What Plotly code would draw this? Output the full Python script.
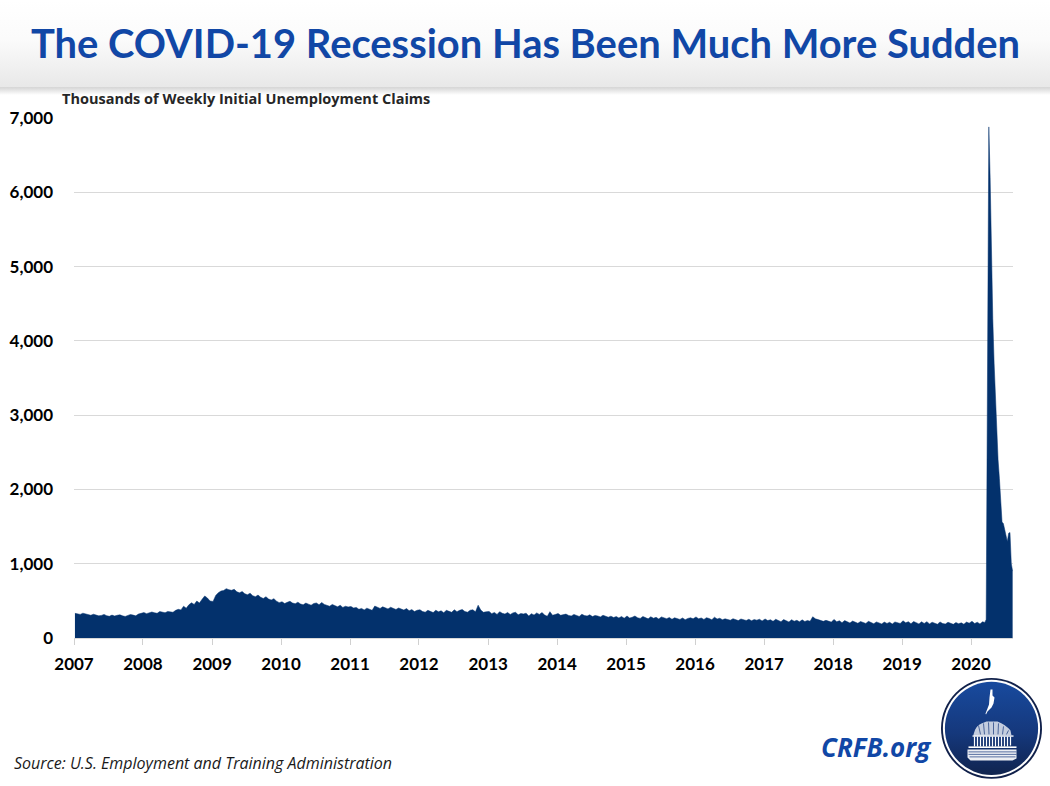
import base64
import pandas as pd
import plotly.graph_objects as go

TITLE = "The COVID-19 Recession Has Been Much More Sudden"
SUBTITLE = "Thousands of Weekly Initial Unemployment Claims"
SOURCE = "Source: U.S. Employment and Training Administration"
BRAND = "CRFB.org"

claims_2007 = [332,325,318,334,322,312,306,320,310,298,304,318,300,292,308,296,306,312,298,290,304,316,308,298,322,330]
claims_2008 = [342,328,336,350,340,332,356,346,340,358,352,346,372,386,378,428,402,446,474,452,498,470,522,566,538,498]
claims_2009 = [492,572,610,632,640,664,650,642,655,622,608,626,596,582,604,570,556,578,548,532,556,524,512,530,496,476]
claims_2010 = [488,464,480,494,470,462,482,458,446,470,456,442,464,472,448,478,452,436,428,452,434,420,440,412,428,418]
claims_2011 = [424,404,412,386,398,378,402,388,372,430,414,398,420,408,392,414,400,384,404,390,376,396,368,382,356,374]
claims_2012 = [380,356,348,372,360,342,374,352,366,340,372,358,346,380,354,372,384,356,348,374,380,352,442,376,346,352]
claims_2013 = [358,328,344,318,354,332,322,344,316,338,346,312,330,324,334,296,328,308,338,318,342,310,292,354,306,316]
claims_2014 = [330,306,316,322,304,296,318,308,290,320,302,296,312,288,304,296,284,306,292,280,294,276,288,270,290,266]
claims_2015 = [296,268,280,296,272,264,290,276,258,286,266,278,256,284,268,260,276,252,272,258,250,270,246,264,272,258]
claims_2016 = [284,258,270,250,274,262,246,280,256,266,246,258,252,240,260,246,234,256,242,236,252,232,248,240,252,230]
claims_2017 = [256,234,246,224,252,236,220,248,228,216,246,226,238,218,244,222,236,226,286,258,248,232,224,238,226,214]
claims_2018 = [250,218,232,206,234,214,202,228,210,198,222,206,196,224,208,192,216,200,190,214,196,212,188,216,204,196]
claims_2019 = [232,204,220,192,222,204,190,218,196,220,190,212,200,186,216,194,188,212,198,184,208,192,204,186,214,200]
claims_2020_start = [224,196,212,190,218]
crisis_dates = ["2020-03-14","2020-03-21","2020-03-28","2020-04-04","2020-04-11","2020-04-18",
                "2020-04-25","2020-05-02","2020-05-09","2020-05-16","2020-05-23","2020-05-30","2020-06-06",
                "2020-06-13","2020-06-20","2020-06-27","2020-07-04","2020-07-11","2020-07-18","2020-07-25","2020-08-01","2020-08-08"]
crisis_values = [210,250,2920,6880,6200,5000,4300,3700,3200,2650,2400,2150,1850,1560,1540,1470,1380,1300,1410,1420,1000,900]
y_ticks = [0,1000,2000,3000,4000,5000,6000,7000]

by_year = {2007: claims_2007, 2008: claims_2008, 2009: claims_2009, 2010: claims_2010, 2011: claims_2011,
           2012: claims_2012, 2013: claims_2013, 2014: claims_2014, 2015: claims_2015, 2016: claims_2016,
           2017: claims_2017, 2018: claims_2018, 2019: claims_2019, 2020: claims_2020_start}
dates, values = [], []
for yr, vals in by_year.items():
    dates += list(pd.date_range(f"{yr}-01-06", periods=len(vals), freq="14D").strftime("%Y-%m-%d"))
    values += vals
dates += crisis_dates
values += crisis_values

L, R, T, B = 74.0, 1013.0, 118.0, 638.5
W, H = 1050, 786
px = lambda x: (x - L) / (R - L)
py = lambda y: (B - y) / (B - T)


def uri(svg):
    return "data:image/svg+xml;base64," + base64.b64encode(svg.encode()).decode()


header_svg = f"""<svg xmlns='http://www.w3.org/2000/svg' width='{W}' height='98' viewBox='0 0 {W} 98' preserveAspectRatio='none'>
<defs><linearGradient id='g' x1='0' y1='0' x2='0' y2='1'>
<stop offset='0' stop-color='#ffffff'/><stop offset='0.45' stop-color='#fbfbfb'/><stop offset='1' stop-color='#e8e8e8'/></linearGradient>
<linearGradient id='s' x1='0' y1='0' x2='0' y2='1'><stop offset='0' stop-color='#d4d4d4'/><stop offset='1' stop-color='#ffffff'/></linearGradient></defs>
<rect x='0' y='0' width='{W}' height='87' fill='url(#g)'/>
<rect x='0' y='87' width='{W}' height='8' fill='url(#s)'/>
</svg>"""

logo_svg = """<svg xmlns='http://www.w3.org/2000/svg' width='408' height='408' viewBox='0 0 102 102'>
<defs><linearGradient id='b' x1='0' y1='0' x2='0' y2='1'>
<stop offset='0' stop-color='#184a9e'/><stop offset='0.55' stop-color='#15387c'/><stop offset='1' stop-color='#10244f'/></linearGradient></defs>
<circle cx='51' cy='51' r='50.5' fill='#10204a'/>
<circle cx='51' cy='51' r='48.6' fill='#ffffff'/>
<circle cx='51' cy='51' r='46.6' fill='url(#b)'/>
<g fill='#ffffff'>
<path d='M50 12 L52 12 L52 18 L54 20 L53 26 L51 30 L47 34 L45.5 37 L45 36 L47 31 L48.5 27 L49 20 Z'/>
<path d='M33 57 Q35 48 41 46 L46 44 L57 44 Q65 47 70 53 L71 58 L33 58.5 Z' opacity='0.75'/>
<rect x='32' y='58' width='41' height='1.3'/>
<rect x='28' y='69' width='48' height='1.6'/>
<path d='M27 72 L76 72 L76 81 L72 83 L30 83 L27 80 Z' opacity='0.92'/>
</g>
<g stroke='#ffffff' stroke-width='1.2'>
<path d='M34 59 V69 M37 59 V69 M40 59 V69 M43 59 V69 M46 59 V69 M49 59 V69 M52 59 V69 M55 59 V69 M58 59 V69 M61 59 V69 M64 59 V69 M67 59 V69 M70 59 V68'/>
</g>
<g stroke='#15387c' stroke-width='0.7'>
<path d='M28 74.5 H76 M28 77 H76 M29 79.5 H75'/>
<path d='M38 48 L40 57 M43 46 L44 57 M48 45 L48.5 57 M53 45 L53 57 M58 46 L57.5 57 M63 49 L62 57 M68 53 L66 57'/>
</g>
</svg>"""

fig = go.Figure(go.Scatter(
    x=dates, y=values, mode="lines", fill="tozeroy",
    fillcolor="#03316c", line=dict(color="#03316c", width=0.5),
    hoverinfo="x+y", showlegend=False,
))

fig.update_layout(
    width=W, height=H,
    margin=dict(l=L, r=W - R, t=T, b=H - B, pad=0, autoexpand=False),
    paper_bgcolor="#ffffff", plot_bgcolor="#ffffff",
    title=dict(text=f"<b>{TITLE}</b>", x=525.5 / W, xanchor="center", xref="container",
               y=1 - 44 / H, yanchor="middle", yref="container",
               font=dict(family="Lato", size=39.9, color="#1147a6")),
    xaxis=dict(type="date", range=["2007-01-01", "2020-08-10"], tick0="2007-01-01", dtick="M12",
               tickformat="%Y", ticks="outside", ticklen=6, tickcolor="#d0d0d0", tickwidth=1,
               showgrid=False, showline=True, linecolor="#d9d9d9", linewidth=1, zeroline=False, automargin=False,
               tickfont=dict(family="Lato", size=17, weight=700, color="#000000"), ticklabelstandoff=5),
    yaxis=dict(range=[0, 7000], tickvals=y_ticks, tickformat=",d", ticks="", showline=False, automargin=False,
               gridcolor="#d9d9d9", gridwidth=1, zeroline=False, ticklabelstandoff=20,
               tickfont=dict(family="Lato", size=17, weight=700, color="#000000")),
    images=[
        dict(source=uri(header_svg), xref="paper", yref="paper", x=px(0), y=py(0), sizex=W / (R - L),
             sizey=98 / (B - T), xanchor="left", yanchor="top", sizing="stretch", layer="below"),
        dict(source=uri(logo_svg), xref="paper", yref="paper", x=px(940.5), y=py(678), sizex=102 / (R - L),
             sizey=102 / (B - T), xanchor="left", yanchor="top", sizing="stretch", layer="above"),
    ],
    annotations=[
        dict(text=f"<b>{SUBTITLE}</b>", xref="paper", yref="paper", x=px(60), y=py(98), xanchor="left",
             yanchor="middle", showarrow=False, font=dict(family="Open Sans", size=14.5, color="#262626")),
        dict(text=f"<i>{SOURCE}</i>", xref="paper", yref="paper", x=px(12), y=py(764), xanchor="left",
             yanchor="middle", showarrow=False, font=dict(family="Open Sans", size=16, color="#1a1a1a")),
        dict(text=f"<b><i>{BRAND}</i></b>", xref="paper", yref="paper", x=px(819), y=py(748), xanchor="left",
             yanchor="middle", showarrow=False, font=dict(family="Open Sans", size=26, color="#1147a6")),
    ],
)
fig.write_html("out.html", config={"displayModeBar": False},
               post_script="document.body.style.margin='0';document.body.style.overflow='hidden';document.documentElement.style.overflow='hidden';")
